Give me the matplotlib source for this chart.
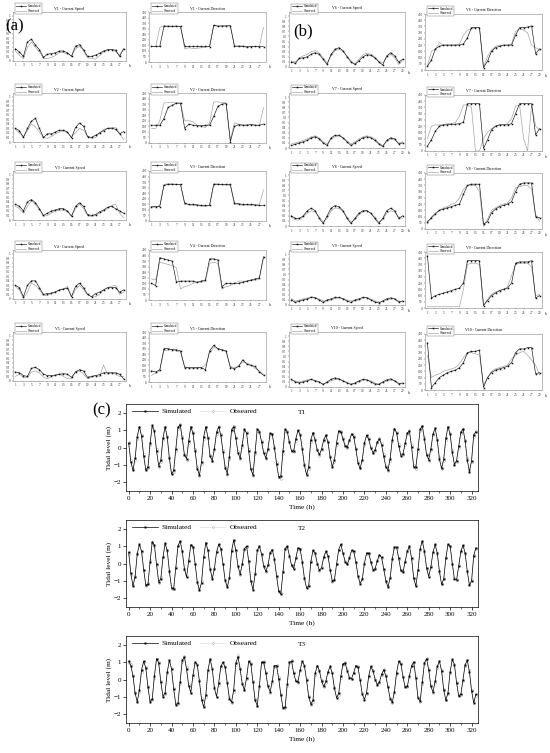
import numpy as np
import matplotlib.pyplot as plt

plt.rcParams['font.family'] = ['Liberation Serif', 'DejaVu Serif']

# ---- (a) stations V1-V5, days 1-28 ----
v1_spd_sim = [0.27,0.2,0.1,0.42,0.48,0.35,0.25,0.08,0.15,0.16,0.18,0.22,0.22,0.18,0.1,0.33,0.36,0.25,0.1,0.1,0.13,0.17,0.22,0.25,0.25,0.24,0.1,0.27]
v1_spd_obs = [0.22,0.13,0.05,0.3,0.42,0.3,0.2,0.06,0.05,0.08,0.12,0.19,0.19,0.15,0.12,0.27,0.32,0.22,0.07,0.06,0.04,0.12,0.2,0.24,0.25,0.21,0.13,0.26]
v1_dir_sim = [140,140,140,320,320,320,322,320,142,140,140,140,140,140,138,330,322,324,324,326,140,140,140,138,138,140,138,138]
v1_dir_obs = [140,138,310,328,325,322,325,320,118,128,122,124,128,134,140,330,325,326,325,330,146,146,145,128,140,140,140,312]

v2_spd_sim = [0.3,0.25,0.1,0.3,0.46,0.52,0.3,0.1,0.18,0.18,0.22,0.26,0.26,0.22,0.09,0.32,0.42,0.35,0.12,0.1,0.15,0.2,0.25,0.3,0.3,0.28,0.18,0.23]
v2_spd_obs = [0.28,0.2,0.12,0.25,0.4,0.33,0.22,0.1,0.08,0.12,0.18,0.22,0.25,0.2,0.12,0.2,0.3,0.26,0.12,0.08,0.1,0.2,0.28,0.3,0.32,0.32,0.2,0.05]
v2_dir_sim = [160,160,160,220,320,340,358,360,130,170,160,155,155,160,160,240,330,350,355,12,150,165,160,160,165,160,160,170]
v2_dir_obs = [130,130,200,360,365,365,362,355,200,200,190,160,150,140,180,370,370,365,362,30,180,170,160,165,170,160,160,318]

v3_spd_sim = [0.35,0.3,0.2,0.4,0.45,0.38,0.25,0.1,0.15,0.2,0.22,0.25,0.25,0.2,0.08,0.3,0.38,0.3,0.12,0.1,0.12,0.18,0.22,0.28,0.3,0.25,0.2,0.15]
v3_spd_obs = [0.3,0.25,0.15,0.3,0.42,0.35,0.22,0.08,0.1,0.15,0.2,0.22,0.22,0.18,0.1,0.25,0.35,0.25,0.1,0.08,0.1,0.15,0.2,0.25,0.32,0.35,0.15,0.05]
v3_dir_sim = [130,130,130,320,330,330,330,330,160,150,150,145,140,140,140,330,330,330,330,330,160,155,150,150,150,145,140,140]
v3_dir_obs = [120,125,140,330,335,335,330,325,150,145,140,140,135,130,140,335,335,325,325,320,150,150,140,145,140,140,150,280]

v4_spd_sim = [0.3,0.25,0.05,0.3,0.4,0.4,0.25,0.1,0.12,0.13,0.16,0.2,0.22,0.24,0.05,0.28,0.35,0.25,0.1,0.05,0.12,0.15,0.2,0.25,0.25,0.25,0.15,0.2]
v4_spd_obs = [0.28,0.2,0.02,0.15,0.35,0.3,0.2,0.08,0.08,0.12,0.15,0.2,0.22,0.28,0.05,0.2,0.3,0.2,0.1,0.05,0.05,0.1,0.2,0.25,0.28,0.3,0.1,0.15]
v4_dir_sim = [150,130,380,370,360,350,160,170,170,170,170,160,170,180,370,370,360,120,150,150,150,150,160,170,180,190,200,390]
v4_dir_obs = [190,180,340,330,320,310,290,100,120,130,150,160,160,170,330,340,330,100,120,130,150,170,170,170,175,180,190,380]

v5_spd_sim = [0.2,0.18,0.12,0.1,0.28,0.3,0.25,0.15,0.12,0.12,0.13,0.15,0.16,0.15,0.08,0.2,0.25,0.22,0.08,0.1,0.12,0.14,0.18,0.18,0.18,0.18,0.15,0.05]
v5_spd_obs = [0.1,0.15,0.08,0.07,0.2,0.22,0.18,0.08,0.05,0.1,0.12,0.15,0.1,0.05,0.05,0.2,0.22,0.15,0.05,0.08,0.12,0.1,0.35,0.15,0.18,0.15,0.1,0.1]
v5_dir_sim = [100,90,110,300,300,290,290,280,130,130,130,130,130,110,280,330,300,290,280,130,120,140,200,160,150,140,90,60]
v5_dir_obs = [60,80,100,280,290,290,280,270,140,120,120,125,130,150,260,310,300,290,270,140,130,150,180,170,150,120,100,70]

# ---- (b) stations V6-V10, days 1-29 ----
v6_spd_sim = [0.1,0.07,0.17,0.18,0.2,0.25,0.28,0.25,0.15,0.05,0.25,0.35,0.38,0.32,0.2,0.1,0.05,0.12,0.2,0.24,0.23,0.18,0.1,0.04,0.22,0.28,0.22,0.1,0.15]
v6_spd_obs = [0.12,0.1,0.18,0.22,0.25,0.3,0.32,0.28,0.18,0.08,0.22,0.32,0.35,0.3,0.22,0.12,0.06,0.15,0.24,0.27,0.25,0.2,0.12,0.08,0.2,0.25,0.18,0.05,0.12]
v6_dir_sim = [30,80,170,190,200,200,200,200,200,210,260,340,340,340,20,70,150,180,190,200,200,200,280,340,340,345,355,130,170]
v6_dir_obs = [30,150,170,220,200,200,200,200,210,280,320,330,340,340,20,110,160,190,200,200,200,210,310,330,320,300,200,180,160]

v7_spd_sim = [0.05,0.07,0.1,0.12,0.15,0.2,0.22,0.18,0.1,0.05,0.2,0.25,0.25,0.2,0.12,0.05,0.1,0.15,0.2,0.22,0.2,0.15,0.08,0.03,0.15,0.2,0.18,0.08,0.1]
v7_spd_obs = [0.08,0.1,0.12,0.15,0.18,0.22,0.24,0.2,0.12,0.08,0.18,0.22,0.24,0.2,0.14,0.08,0.12,0.18,0.22,0.24,0.22,0.18,0.1,0.05,0.12,0.18,0.16,0.1,0.12]
v7_dir_sim = [40,90,160,200,210,210,215,215,220,230,380,380,380,380,20,90,170,200,210,210,210,220,300,380,380,380,380,130,180]
v7_dir_obs = [100,200,210,210,210,220,220,230,280,370,370,350,0,0,100,150,180,200,210,210,220,260,360,370,100,0,370,200,170]

v8_spd_sim = [0.2,0.15,0.15,0.2,0.3,0.35,0.3,0.15,0.05,0.2,0.35,0.4,0.38,0.3,0.15,0.05,0.15,0.25,0.3,0.3,0.25,0.15,0.05,0.15,0.3,0.35,0.3,0.15,0.2]
v8_spd_obs = [0.18,0.12,0.12,0.18,0.25,0.3,0.28,0.18,0.08,0.15,0.3,0.35,0.35,0.28,0.18,0.08,0.12,0.22,0.28,0.3,0.25,0.18,0.08,0.12,0.25,0.3,0.28,0.18,0.15]
v8_dir_sim = [60,90,120,150,160,170,180,190,200,280,350,360,360,360,40,60,130,160,180,190,200,220,300,360,370,370,370,100,90]
v8_dir_obs = [40,100,130,150,170,180,200,210,250,320,350,350,350,300,20,80,150,170,190,200,210,250,330,340,350,350,320,120,60]

v9_spd_sim = [0.1,0.05,0.08,0.1,0.12,0.15,0.14,0.1,0.05,0.1,0.12,0.15,0.15,0.12,0.08,0.05,0.1,0.12,0.15,0.14,0.1,0.06,0.04,0.08,0.12,0.14,0.12,0.06,0.08]
v9_spd_obs = [0.12,0.08,0.1,0.12,0.14,0.16,0.15,0.12,0.08,0.08,0.1,0.13,0.14,0.13,0.1,0.08,0.08,0.1,0.13,0.15,0.12,0.08,0.06,0.06,0.1,0.12,0.12,0.08,0.06]
v9_dir_sim = [420,80,100,110,120,130,140,150,160,200,380,380,380,380,20,60,100,120,140,150,160,200,360,370,370,370,380,80,100]
v9_dir_obs = [10,10,10,10,10,10,10,10,10,150,350,360,360,350,20,70,110,130,140,150,170,260,350,360,360,360,330,100,110]

v10_spd_sim = [0.15,0.1,0.08,0.1,0.12,0.15,0.12,0.1,0.05,0.1,0.15,0.18,0.16,0.12,0.08,0.05,0.08,0.12,0.15,0.14,0.1,0.06,0.05,0.1,0.14,0.16,0.12,0.06,0.08]
v10_spd_obs = [0.12,0.12,0.1,0.12,0.14,0.15,0.13,0.1,0.06,0.08,0.12,0.15,0.15,0.12,0.1,0.06,0.06,0.1,0.13,0.14,0.12,0.08,0.06,0.08,0.12,0.14,0.13,0.08,0.06]
v10_dir_sim = [380,20,60,100,120,140,150,160,180,220,300,310,310,320,20,100,140,160,170,180,190,220,300,330,330,340,340,130,140]
v10_dir_obs = [280,100,120,130,150,160,170,180,210,260,300,300,290,280,40,100,150,170,180,190,200,250,280,300,310,280,240,200,120]

# ---- (c) tidal levels, one value every 2 h from 0 h ----
t1_sim = [0.24,-0.82,-1.3,-0.62,0.63,1.2,0.65,-0.48,-1.31,-1.11,
          0.25,1.27,0.93,-0.2,-1.04,-0.73,0.53,1.2,0.58,-0.63,
          -1.53,-1.32,-0.07,1.15,1.32,0.54,-0.42,-0.64,0.37,1.2,
          0.81,-0.2,-1.21,-1.6,-0.82,0.61,1.2,0.54,-0.51,-0.75,
          -0.06,0.88,1.19,0.69,-0.23,-1.15,-1.5,-0.53,1.03,1.2,
          0.52,-0.3,-0.6,0.16,1.05,0.83,-0.2,-1.25,-1.57,-0.25,
          1.07,0.91,0.33,-0.31,-0.6,-0.06,0.81,0.75,0.0,-0.94,
          -1.67,-1.64,-0.18,1.05,0.9,0.3,-0.22,-0.19,0.51,0.99,
          0.74,-0.09,-1.03,-1.57,-1.1,0.45,0.86,0.42,-0.17,-0.4,
          -0.09,0.45,0.7,0.29,-0.56,-1.1,-0.74,0.28,0.96,0.89,
          0.48,0.09,0.03,0.41,0.78,0.62,-0.1,-0.9,-1.2,-0.69,
          0.26,0.7,0.47,-0.02,-0.3,-0.12,0.31,0.5,0.17,-0.51,
          -1.12,-1.29,-0.64,0.45,1.08,0.84,0.1,-0.46,-0.36,0.23,
          0.83,0.95,0.03,-1.11,-1.14,-0.08,1.04,1.24,0.5,-0.43,
          -0.69,-0.08,0.78,1.1,0.43,-0.68,-1.2,-0.65,0.53,1.2,
          0.76,-0.27,-0.98,-0.75,0.07,0.89,1.07,0.38,-0.73,-1.39,
          -0.75,0.74,0.9]
t1_obs = [0.3,-0.7,-1.25,-0.7,0.5,1.15,0.72,-0.4,-1.25,-1.18,
          0.12,1.2,1.0,-0.1,-1.1,-0.82,0.42,1.15,0.66,-0.55,
          -1.48,-1.4,-0.2,1.05,1.36,0.64,-0.35,-0.7,0.26,1.15,
          0.9,-0.1,-1.12,-1.62,-0.95,0.5,1.15,0.62,-0.42,-0.8,
          -0.16,0.8,1.22,0.76,-0.14,-1.05,-1.56,-0.66,0.95,1.26,
          0.6,-0.22,-0.66,0.05,1.0,0.9,-0.1,-1.15,-1.62,-0.4,
          0.97,0.96,0.4,-0.24,-0.66,-0.16,0.7,0.8,0.1,-0.85,
          -1.72,-1.82,-0.35,0.96,0.95,0.36,-0.15,-0.26,0.4,0.94,
          0.8,0.0,-0.95,-1.55,-1.22,0.3,0.85,0.5,-0.1,-0.46,
          -0.15,0.38,0.7,0.36,-0.46,-1.06,-0.86,0.15,0.9,0.92,
          0.55,0.15,0.0,0.35,0.75,0.66,0.0,-0.8,-1.18,-0.8,
          0.15,0.66,0.52,0.05,-0.3,-0.2,0.25,0.52,0.25,-0.4,
          -1.05,-1.36,-0.75,0.35,1.05,0.9,0.2,-0.4,-0.45,0.14,
          0.75,1.0,0.15,-1.0,-1.26,-0.2,0.95,1.26,0.6,-0.35,
          -0.75,-0.15,0.7,1.12,0.5,-0.55,-1.26,-0.76,0.45,1.15,
          0.86,-0.15,-0.96,-0.86,-0.05,0.8,1.06,0.45,-0.6,-1.32,
          -0.86,0.6,0.95]
t2_sim = [0.65,-0.55,-1.3,-0.75,0.55,1.1,0.72,-0.35,-1.25,-1.2,
          0.1,1.25,1.05,-0.05,-1.05,-0.88,0.35,1.15,0.75,-0.45,
          -1.4,-1.45,-0.25,1.0,1.3,0.7,-0.3,-0.78,0.15,1.08,
          0.95,0.0,-1.05,-1.55,-1.1,0.35,1.2,0.75,-0.3,-0.88,
          -0.3,0.65,1.1,0.85,0.0,-0.95,-1.35,-0.85,0.7,1.35,
          0.75,-0.15,-0.6,-0.05,0.85,1.0,0.15,-1.0,-1.5,-0.6,
          0.75,1.0,0.55,-0.15,-0.45,-0.1,0.6,0.8,0.25,-0.7,
          -1.6,-1.75,-0.5,0.85,1.0,0.45,-0.1,-0.3,0.3,0.9,
          0.85,0.1,-0.85,-1.4,-1.3,0.1,0.75,0.6,0.0,-0.4,
          -0.25,0.35,0.7,0.45,-0.35,-1.0,-0.95,-0.05,0.8,1.1,
          0.6,0.1,-0.05,0.3,0.75,0.7,0.1,-0.7,-1.15,-0.9,
          0.0,0.6,0.6,0.1,-0.35,-0.3,0.15,0.5,0.35,-0.3,
          -1.0,-1.35,-0.85,0.25,0.95,0.95,0.3,-0.4,-0.5,0.1,
          0.7,1.0,0.3,-0.85,-1.3,-0.4,0.85,1.3,0.7,-0.25,
          -0.75,-0.2,0.65,1.1,0.6,-0.45,-1.2,-0.9,0.3,1.1,
          1.0,0.0,-0.9,-0.95,-0.15,0.7,1.05,0.6,-0.45,-1.25,
          -1.0,0.45,0.9]
t2_obs = [0.55,-0.65,-1.25,-0.7,0.6,1.05,0.65,-0.4,-1.3,-1.1,
          0.2,1.2,1.0,-0.1,-1.1,-0.8,0.4,1.1,0.7,-0.5,
          -1.45,-1.4,-0.2,1.05,1.25,0.65,-0.35,-0.72,0.2,1.05,
          0.9,-0.05,-1.1,-1.5,-1.0,0.4,1.15,0.7,-0.35,-0.85,
          -0.25,0.7,1.05,0.8,-0.05,-1.0,-1.3,-0.8,0.75,1.3,
          0.7,-0.2,-0.65,0.0,0.8,0.95,0.1,-1.05,-1.45,-0.55,
          0.8,0.95,0.5,-0.2,-0.5,-0.05,0.65,0.75,0.2,-0.75,
          -1.65,-1.7,-0.45,0.9,0.95,0.4,-0.15,-0.25,0.35,0.85,
          0.8,0.05,-0.9,-1.35,-1.25,0.15,0.7,0.55,-0.05,-0.45,
          -0.2,0.4,0.65,0.4,-0.4,-1.05,-0.9,0.0,0.75,1.05,
          0.55,0.15,0.0,0.35,0.7,0.65,0.05,-0.75,-1.1,-0.85,
          0.05,0.55,0.55,0.05,-0.4,-0.25,0.2,0.45,0.3,-0.35,
          -1.05,-1.3,-0.8,0.3,0.9,0.9,0.25,-0.45,-0.45,0.15,
          0.65,0.95,0.25,-0.9,-1.25,-0.35,0.8,1.25,0.65,-0.3,
          -0.7,-0.15,0.6,1.05,0.55,-0.5,-1.15,-0.85,0.35,1.05,
          0.95,-0.05,-0.85,-0.9,-0.1,0.65,1.0,0.55,-0.5,-1.2,
          -0.95,0.5,0.85]
t3_sim = [1.05,0.8,0.2,-0.8,-1.28,-0.62,0.55,1.05,0.65,-0.45,
          -1.28,-1.1,0.2,1.2,0.95,-0.15,-0.98,-0.75,0.45,1.1,
          0.6,-0.55,-1.45,-1.35,-0.15,1.1,1.3,0.6,-0.35,-0.75,
          0.25,1.0,0.85,-0.1,-1.15,-1.58,-0.9,0.55,1.18,0.6,
          -0.5,-0.98,-0.2,0.75,1.0,0.7,-0.2,-1.1,-1.3,-0.6,
          0.95,1.3,0.6,-0.25,-0.6,0.1,1.05,0.9,-0.15,-1.2,
          -1.5,-0.35,1.0,1.0,0.35,-0.4,-0.7,-0.1,0.8,0.8,
          0.05,-0.9,-1.62,-1.6,-0.25,1.0,1.05,0.35,-0.1,-0.12,
          0.55,1.05,0.8,-0.05,-1.0,-1.4,-1.2,0.35,0.8,0.5,
          -0.1,-0.4,-0.1,0.45,0.75,0.35,-0.5,-1.05,-0.8,0.2,
          0.9,0.95,0.5,0.1,0.05,0.4,0.8,0.7,-0.05,-0.85,
          -1.15,-0.75,0.2,0.75,0.5,0.0,-0.3,-0.15,0.3,0.55,
          0.2,-0.45,-1.1,-1.3,-0.7,0.4,1.05,0.9,0.15,-0.45,
          -0.4,0.2,0.8,1.0,0.1,-1.05,-1.25,-0.15,0.95,1.2,
          0.55,-0.4,-0.72,-0.1,0.75,1.05,0.5,-0.6,-1.2,-0.75,
          0.45,1.15,0.85,-0.2,-0.95,-0.85,0.0,0.85,1.1,0.45,
          -0.65,-1.35,-0.85]
t3_obs = [0.95,0.9,0.25,-0.7,-1.22,-0.7,0.45,1.0,0.72,-0.38,
          -1.2,-1.18,0.1,1.15,1.0,-0.08,-0.92,-0.82,0.35,1.05,
          0.68,-0.48,-1.38,-1.42,-0.25,1.02,1.35,0.7,-0.28,-0.8,
          0.15,0.95,0.9,0.0,-1.08,-1.55,-0.98,0.45,1.12,0.68,
          -0.42,-1.02,-0.3,0.68,0.95,0.78,-0.12,-1.02,-1.35,-0.7,
          0.85,1.38,0.68,-0.18,-0.62,0.02,1.0,0.95,-0.08,-1.12,
          -1.52,-0.45,0.9,1.05,0.42,-0.32,-0.75,-0.18,0.72,0.85,
          0.12,-0.82,-1.58,-1.65,-0.35,0.92,1.1,0.42,-0.05,-0.18,
          0.48,1.0,0.85,0.02,-0.92,-1.45,-1.28,0.25,0.75,0.55,
          -0.02,-0.42,-0.18,0.38,0.72,0.42,-0.42,-1.0,-0.88,0.1,
          0.85,0.98,0.58,0.15,0.02,0.35,0.75,0.75,0.02,-0.78,
          -1.12,-0.82,0.12,0.7,0.55,0.05,-0.28,-0.2,0.25,0.58,
          0.25,-0.38,-1.05,-1.35,-0.78,0.32,1.0,0.95,0.2,-0.4,
          -0.45,0.12,0.75,1.02,0.18,-0.98,-1.3,-0.25,0.88,1.22,
          0.62,-0.32,-0.75,-0.18,0.68,1.08,0.55,-0.52,-1.15,-0.82,
          0.38,1.12,0.9,-0.12,-0.9,-0.9,-0.08,0.8,1.12,0.52,
          -0.58,-1.3,-0.92]

W, H = 550.0, 753.0


def px_axes(fig, x0, x1, y0, y1):
    # pixel box (top-left origin) -> figure axes
    return fig.add_axes([x0 / W, 1 - y1 / H, (x1 - x0) / W, (y1 - y0) / H])


def small_panel(ax, sim, obs, title, kind, ndays):
    x_s = np.arange(1, len(sim) + 1)
    x_o = np.arange(1, len(obs) + 1)
    ax.plot(x_s, sim, color='#111111', lw=0.45, marker='s', ms=1.1, mew=0, label='Simulated', zorder=3)
    ax.plot(x_o, obs, color='#a6a6a6', lw=0.5, label='Observed', zorder=2)
    ax.set_xlim(0.4, ndays + 0.6)
    ax.set_xticks(range(1, ndays + 1, 2))
    if kind == 'spd':
        ax.set_ylim(0, 1.08)
        ax.set_yticks(np.arange(0, 1.01, 0.1))
        ax.set_yticklabels(['0'] + ['%.1f' % v for v in np.arange(0.1, 0.95, 0.1)] + ['1'])
    else:
        ax.set_ylim(0, 450)
        ax.set_yticks(range(0, 451, 50))
    ax.tick_params(labelsize=2.4, length=1, width=0.3, pad=0.8, colors='#333333')
    for s in ax.spines.values():
        s.set_linewidth(0.4)
        s.set_color('#888888')
    ax.text(0.5, 1.07, title, transform=ax.transAxes, ha='center', va='center', fontsize=2.8)
    ax.text(1.03, -0.1, 'h', transform=ax.transAxes, ha='center', va='center', fontsize=2.4)
    leg = ax.legend(loc='lower left', bbox_to_anchor=(0.0, 0.93), fontsize=2.3, handlelength=3.2,
                    borderpad=0.3, labelspacing=0.25, handletextpad=0.5, fancybox=False,
                    edgecolor='#666666', framealpha=1)
    leg.get_frame().set_linewidth(0.3)


fig = plt.figure(figsize=(5.5, 7.53), dpi=100)

col_x = [(13, 126), (149, 266), (289, 405), (425, 542)]
row_off = [0, 81, 159, 238, 320]
col_y = [(12, 61), (12, 62), (12, 67), (14, 70)]

speeds = [(v1_spd_sim, v1_spd_obs), (v2_spd_sim, v2_spd_obs), (v3_spd_sim, v3_spd_obs),
          (v4_spd_sim, v4_spd_obs), (v5_spd_sim, v5_spd_obs), (v6_spd_sim, v6_spd_obs),
          (v7_spd_sim, v7_spd_obs), (v8_spd_sim, v8_spd_obs), (v9_spd_sim, v9_spd_obs),
          (v10_spd_sim, v10_spd_obs)]
dirs = [(v1_dir_sim, v1_dir_obs), (v2_dir_sim, v2_dir_obs), (v3_dir_sim, v3_dir_obs),
        (v4_dir_sim, v4_dir_obs), (v5_dir_sim, v5_dir_obs), (v6_dir_sim, v6_dir_obs),
        (v7_dir_sim, v7_dir_obs), (v8_dir_sim, v8_dir_obs), (v9_dir_sim, v9_dir_obs),
        (v10_dir_sim, v10_dir_obs)]

for i in range(10):
    group = i // 5
    row = i % 5
    ndays = 28 if group == 0 else 29
    name = 'V%d' % (i + 1)
    for k, kind in enumerate(['spd', 'dir']):
        col = group * 2 + k
        x0, x1 = col_x[col]
        y0, y1 = col_y[col]
        ax = px_axes(fig, x0, x1, y0 + row_off[row], y1 + row_off[row])
        if kind == 'spd':
            sim, obs = speeds[i]
            title = name + ' - Current Speed'
        else:
            sim, obs = dirs[i]
            title = name + ' - Current Direction'
        small_panel(ax, sim, obs, title, kind, ndays)

fig.text(5 / W, 1 - 26 / H, '(a)', fontsize=12, va='center', ha='left')
fig.text(293 / W, 1 - 31 / H, '(b)', fontsize=12, va='center', ha='left')
fig.text(92 / W, 1 - 410 / H, '(c)', fontsize=12, va='center', ha='left')

tides = [('T1', t1_sim, t1_obs, 404, 491), ('T2', t2_sim, t2_obs, 520, 607), ('T3', t3_sim, t3_obs, 636, 723)]
for name, sim, obs, ytop, ybot in tides:
    ax = px_axes(fig, 126, 478, ytop, ybot)
    ax.plot(np.arange(len(obs)) * 2, obs, color='#b0b0b0', lw=0.55, ls=':', marker='o', ms=1.3,
            mfc='white', mec='#a0a0a0', mew=0.35, label='Obseared', zorder=2)
    ax.plot(np.arange(len(sim)) * 2, sim, color='black', lw=0.5, marker='s', ms=1.4, mew=0,
            label='Simulated', zorder=3)
    ax.set_xlim(-2.5, 326)
    ax.set_ylim(-2.5, 2.5)
    ax.set_xticks(range(0, 321, 20))
    ax.set_xticks(range(10, 321, 20), minor=True)
    ax.set_yticks([-2, -1, 0, 1, 2])
    ax.tick_params(labelsize=5, length=2.2, width=0.5, pad=1.5)
    ax.tick_params(which='minor', length=1.3, width=0.4)
    for s in ax.spines.values():
        s.set_linewidth(0.5)
    ax.set_xlabel('Time (h)', fontsize=5.3, labelpad=2)
    ax.set_ylabel('Tidal level (m)', fontsize=5.3, labelpad=1)
    ax.text(0.5, 0.9, name, transform=ax.transAxes, ha='center', va='center', fontsize=5.3)
    h, l = ax.get_legend_handles_labels()
    ax.legend(h[::-1], l[::-1], loc='upper left', bbox_to_anchor=(0.0, 1.02), ncol=2, frameon=False,
              fontsize=5.3, handlelength=3.5, columnspacing=1.2, handletextpad=0.5, borderpad=0.3)

fig.savefig('out.png', dpi=100)
